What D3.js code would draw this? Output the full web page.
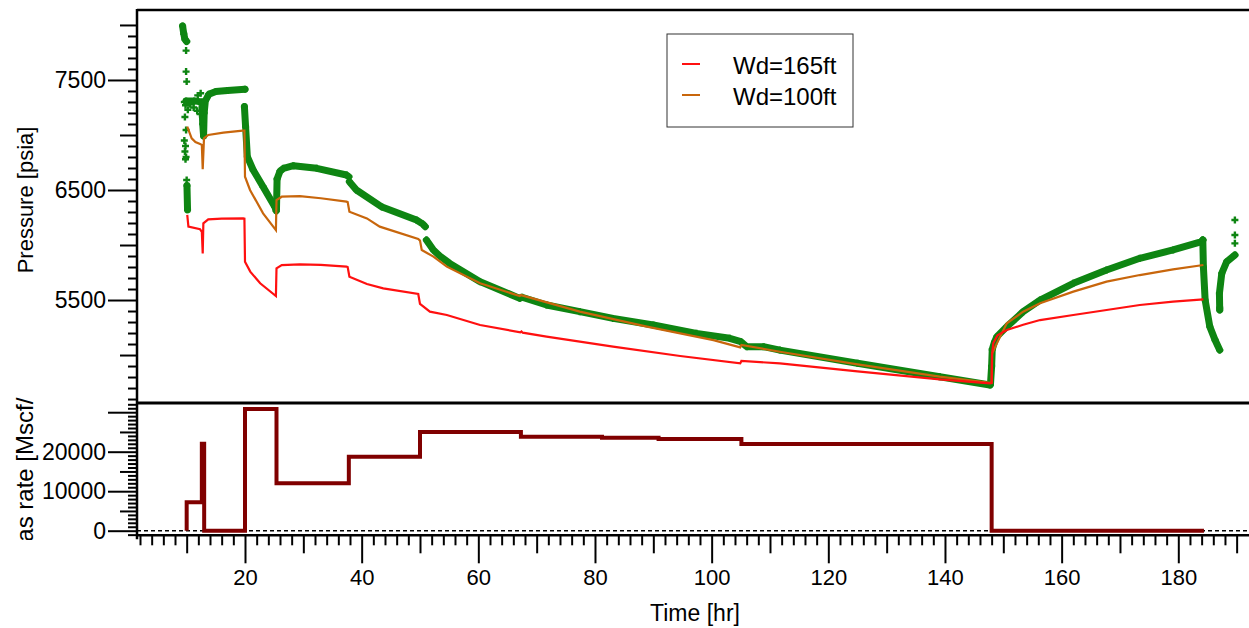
<!DOCTYPE html>
<html>
<head>
<meta charset="utf-8">
<script src="https://cdn.jsdelivr.net/npm/d3@7"></script>
<style>
  html, body { margin: 0; padding: 0; background: #fff; }
  svg { display: block; font-family: "Liberation Sans", Arial, sans-serif; }
</style>
</head>
<body>
<svg id="chart" width="1249" height="628"></svg>
<script>
// ---------------- DATA ----------------
const xTickLabels = [20, 40, 60, 80, 100, 120, 140, 160, 180];
const pressureTickLabels = [5500, 6500, 7500];
const rateTickLabels = [0, 10000, 20000];
const legendLabels = ["Wd=165ft", "Wd=100ft"];

// simulated pressure, Wd=165ft  [time hr, pressure psia]
const sim165 = [
  [10.1, 6273], [10.3, 6167], [12.3, 6143], [12.6, 6120], [12.75, 5924], [12.86, 6197],
  [13.7, 6233], [16, 6240], [19.7, 6242], [19.9, 6240], [20.0, 5848], [20.9, 5758],
  [22.6, 5652], [25.3, 5536], [25.4, 5788], [26.3, 5818], [29.4, 5824], [33, 5820],
  [37.4, 5803], [37.6, 5800], [37.9, 5712], [40.9, 5645], [43.7, 5606], [49.7, 5555],
  [50.0, 5464], [51.7, 5394], [54.6, 5364], [60.3, 5273], [67.2, 5206], [67.4, 5214],
  [67.6, 5203], [71.7, 5167], [83.1, 5076], [94.6, 4991], [104.9, 4924], [105.1, 4946],
  [111.7, 4924], [125, 4852], [139.1, 4779], [147.7, 4742], [148.0, 4745], [148.05, 5000],
  [148.3, 5110], [149, 5180], [150.6, 5227], [153.4, 5275], [156.3, 5318], [162, 5364],
  [167.7, 5409], [173.4, 5455], [179.1, 5485], [184.3, 5506]
];
// simulated pressure, Wd=100ft
const sim100 = [
  [10.1, 7076], [10.86, 6970], [11.5, 6935], [12.3, 6918], [12.6, 6910], [12.75, 6688],
  [12.97, 6970], [13.7, 7000], [16.3, 7021], [19.6, 7039], [19.9, 7040], [20.0, 6621],
  [20.86, 6500], [23.1, 6288], [25.3, 6136], [25.4, 6409], [26.3, 6439], [29.4, 6445],
  [33, 6425], [37.4, 6394], [37.6, 6390], [37.9, 6303], [40.9, 6242], [43.1, 6167],
  [49.7, 6055], [50.0, 6040], [50.3, 5955], [52.3, 5894], [54.6, 5803], [60.3, 5652],
  [67.1, 5536], [67.3, 5545], [77.4, 5394], [88.9, 5258], [100.3, 5136], [104.9, 5070],
  [105.1, 5091], [111.7, 5030], [125, 4915], [139.1, 4803], [147.7, 4748], [148.0, 4750],
  [148.1, 5015], [148.9, 5106], [150.6, 5288], [153.4, 5394], [156.3, 5470], [162, 5576],
  [167.7, 5667], [173.4, 5727], [179.1, 5779], [184.3, 5818]
];
// measured pressure (dense markers), read as connected stretches
const measTop = [[9.3, 7990], [9.5, 7920], [9.7, 7870], [10.0, 7850]];
const measLow = [[10.05, 6540], [10.15, 6320]];
const measA = [
  [9.9, 7310], [11.3, 7310], [12.6, 7300], [12.75, 7100], [12.9, 6990], [13.0, 7200],
  [13.2, 7310], [13.8, 7370], [15, 7395], [17, 7405], [20.0, 7415]
];
const measB = [[19.9, 7258], [20.1, 7076], [20.4, 6803], [21.4, 6682], [23.1, 6530], [25.1, 6348], [25.35, 6310]];
const measC = [[25.4, 6330], [25.5, 6600], [26, 6670], [26.6, 6697], [28.3, 6721], [32.3, 6697], [37.4, 6636], [37.8, 6620]];
const measD = [[37.9, 6576], [39.1, 6500], [43.5, 6345], [49.4, 6227], [50.5, 6190], [50.9, 6167]];
const measE = [
  [51.1, 6045], [52.3, 5955], [53.4, 5900], [55.1, 5833], [60.3, 5667], [67.1, 5515],
  [67.5, 5525], [71.7, 5455], [77.4, 5394], [83.1, 5333], [90, 5273], [97.4, 5197],
  [103.1, 5152], [105, 5121], [106, 5076], [108.9, 5076], [111.7, 5045], [125, 4925],
  [139.1, 4803], [147.7, 4727]
];
const measF = [
  [147.8, 4735], [148.0, 4900], [148.1, 5050], [148.5, 5120], [148.9, 5167], [150.6, 5258],
  [153.4, 5394], [156.3, 5500], [162, 5652], [167.7, 5773], [173.4, 5879], [179.1, 5955],
  [184.0, 6030], [184.2, 6045]
];
const measG = [[184.2, 6045], [184.3, 5803], [184.6, 5500], [185.4, 5258], [186.3, 5136], [187.1, 5045]];
const measH = [[187.1, 5409], [187.05, 5561], [187.45, 5742], [188.3, 5848], [189.7, 5909]];
const measIsolated = [
  [9.9, 7767], [9.9, 7576], [10.0, 7485], [9.6, 7300], [9.8, 7270], [10.2, 7230],
  [10.6, 7280], [11.2, 7250], [11.8, 7220], [12.3, 7190], [11.9, 7360], [12.4, 7380],
  [9.7, 7164], [9.9, 7045], [9.6, 6950], [9.8, 6900], [9.7, 6850], [9.9, 6800],
  [9.8, 6780], [10.0, 6591], [189.7, 6227], [189.7, 6091], [189.7, 6015], [187.1, 5430]
];
// gas rate (step after)
const rateT = [10.0, 10.0, 12.6, 13.0, 20.0, 25.4, 37.8, 50.0, 67.3, 81.2, 90.9, 105.1, 148.0, 184.4];
const rateQ = [0, 7200, 22000, 0, 30800, 12000, 18700, 25000, 23800, 23550, 23200, 21950, 0, 0];

// ---------------- LAYOUT ----------------
const L = 137, R = 1249, T = 10, SEP = 403, B = 535.3;
const svg = d3.select("#chart");

const x = d3.scaleLinear().domain([1.485, 192.12]).range([L, R]);
const yP = d3.scaleLinear().domain([4564, 8136]).range([SEP, T]);
const yR = d3.scaleLinear().domain([-1165, 32330]).range([B, SEP]);

const defs = svg.append("defs");
defs.append("clipPath").attr("id", "clipTop")
  .append("rect").attr("x", L).attr("y", T).attr("width", R - L).attr("height", SEP - T);
defs.append("clipPath").attr("id", "clipBot")
  .append("rect").attr("x", L).attr("y", SEP).attr("width", R - L).attr("height", B - SEP);
defs.append("clipPath").attr("id", "clipRateLabel")
  .append("rect").attr("x", 0).attr("y", 397).attr("width", 60).attr("height", 143);

// ---------------- AXES ----------------
function drawTicks(g, axis) {
  g.call(axis);
  g.select(".domain").remove();
  g.selectAll(".tick line").attr("stroke", "#000").attr("stroke-width", 2);
}
// x axis
const xAll = d3.range(2, 192, 2);
const xMinor = xAll.filter(v => v % 10 !== 0);
const xMed = xAll.filter(v => v % 10 === 0 && v % 20 !== 0);
drawTicks(svg.append("g").attr("transform", `translate(0,${B})`),
  d3.axisBottom(x).tickValues(xMinor).tickSize(10).tickFormat(""));
drawTicks(svg.append("g").attr("transform", `translate(0,${B})`),
  d3.axisBottom(x).tickValues(xMed).tickSize(18).tickFormat(""));
const gxMaj = svg.append("g").attr("transform", `translate(0,${B})`);
drawTicks(gxMaj, d3.axisBottom(x).tickValues(xTickLabels).tickSize(28).tickPadding(6).tickFormat(d3.format("d")));
gxMaj.selectAll(".tick text").attr("font-size", 22).attr("fill", "#000")
  .attr("font-family", "Liberation Sans, Arial, sans-serif");

// pressure axis
const pAll = d3.range(4600, 8001, 100);
const pMinor = pAll.filter(v => v % 500 !== 0);
const pMed = pAll.filter(v => v % 500 === 0 && !pressureTickLabels.includes(v));
drawTicks(svg.append("g").attr("transform", `translate(${L},0)`),
  d3.axisLeft(yP).tickValues(pMinor).tickSize(9).tickFormat(""));
drawTicks(svg.append("g").attr("transform", `translate(${L},0)`),
  d3.axisLeft(yP).tickValues(pMed).tickSize(17).tickFormat(""));
const gpMaj = svg.append("g").attr("transform", `translate(${L},0)`);
drawTicks(gpMaj, d3.axisLeft(yP).tickValues(pressureTickLabels).tickSize(29).tickPadding(2).tickFormat(d3.format("d")));
gpMaj.selectAll(".tick text").attr("font-size", 23).attr("fill", "#000")
  .attr("font-family", "Liberation Sans, Arial, sans-serif");

// rate axis
const rAll = d3.range(-1000, 32001, 1000);
const rMinor = rAll.filter(v => v % 5000 !== 0);
const rMed = rAll.filter(v => v % 5000 === 0 && v % 10000 !== 0);
const rMajNoLabel = [30000];
drawTicks(svg.append("g").attr("transform", `translate(${L},0)`),
  d3.axisLeft(yR).tickValues(rMinor).tickSize(9).tickFormat(""));
drawTicks(svg.append("g").attr("transform", `translate(${L},0)`),
  d3.axisLeft(yR).tickValues(rMed).tickSize(17).tickFormat(""));
drawTicks(svg.append("g").attr("transform", `translate(${L},0)`),
  d3.axisLeft(yR).tickValues(rMajNoLabel).tickSize(29).tickFormat(""));
const grMaj = svg.append("g").attr("transform", `translate(${L},0)`);
drawTicks(grMaj, d3.axisLeft(yR).tickValues(rateTickLabels).tickSize(29).tickPadding(2).tickFormat(d3.format("d")));
grMaj.selectAll(".tick text").attr("font-size", 23).attr("fill", "#000")
  .attr("font-family", "Liberation Sans, Arial, sans-serif");

// frame lines
svg.append("line").attr("x1", L).attr("x2", R).attr("y1", T).attr("y2", T).attr("stroke", "#000").attr("stroke-width", 2.5);
svg.append("line").attr("x1", L).attr("x2", R).attr("y1", SEP).attr("y2", SEP).attr("stroke", "#000").attr("stroke-width", 3);
svg.append("line").attr("x1", L).attr("x2", R).attr("y1", B).attr("y2", B).attr("stroke", "#000").attr("stroke-width", 2.5);
svg.append("line").attr("x1", L).attr("x2", L).attr("y1", T - 1).attr("y2", B + 4).attr("stroke", "#000").attr("stroke-width", 2.5);

// zero dashed line
svg.append("line").attr("x1", L).attr("x2", R).attr("y1", yR(0)).attr("y2", yR(0))
  .attr("stroke", "#000").attr("stroke-width", 1.5).attr("stroke-dasharray", "4,3");

// ---------------- PRESSURE PANEL ----------------
const gTop = svg.append("g").attr("clip-path", "url(#clipTop)");
const line = d3.line().x(d => x(d[0])).y(d => yP(d[1]));
const green = "#0e8512";
const measSegments = [measTop, measLow, measA, measB, measC, measD, measE, measF, measG, measH];
measSegments.forEach(seg => {
  gTop.append("path").attr("d", line(seg)).attr("fill", "none")
    .attr("stroke", green).attr("stroke-width", 7).attr("stroke-linejoin", "round").attr("stroke-linecap", "round");
});
const plus = "M-3.5,0H3.5M0,-3.5V3.5";
const allMeas = measSegments.flat().concat(measIsolated);
gTop.selectAll("path.m").data(allMeas).join("path").attr("class", "m")
  .attr("transform", d => `translate(${x(d[0])},${yP(d[1])})`)
  .attr("d", plus).attr("stroke", green).attr("stroke-width", 2.4).attr("fill", "none");

gTop.append("path").attr("d", line(sim100)).attr("fill", "none")
  .attr("stroke", "#c8660c").attr("stroke-width", 2.2);
gTop.append("path").attr("d", line(sim165)).attr("fill", "none")
  .attr("stroke", "#ff1010").attr("stroke-width", 2.2);

// ---------------- RATE PANEL ----------------
const gBot = svg.append("g").attr("clip-path", "url(#clipBot)");
const rateData = rateT.map((t, i) => [t, rateQ[i]]);
const rateLine = d3.line().x(d => x(d[0])).y(d => yR(d[1])).curve(d3.curveStepAfter);
gBot.append("path").attr("d", rateLine(rateData)).attr("fill", "none")
  .attr("stroke", "#800000").attr("stroke-width", 4).attr("stroke-linejoin", "miter");

// ---------------- LABELS ----------------
svg.append("text").attr("x", 695).attr("y", 621).attr("text-anchor", "middle")
  .attr("font-size", 23).text("Time [hr]");
svg.append("text").attr("transform", "translate(33,200) rotate(-90)").attr("text-anchor", "middle")
  .attr("font-size", 22).text("Pressure [psia]");
svg.append("g").attr("clip-path", "url(#clipRateLabel)")
  .append("text").attr("transform", "translate(33,467) rotate(-90)").attr("text-anchor", "middle")
  .attr("font-size", 24).text("Gas rate [Mscf/D]");

// legend
const lg = svg.append("g");
lg.append("rect").attr("x", 667).attr("y", 34).attr("width", 186).attr("height", 93)
  .attr("fill", "#fff").attr("stroke", "#333").attr("stroke-width", 1);
const legendColors = ["#ff1010", "#c8660c"];
legendLabels.forEach((lab, i) => {
  const yy = 64 + i * 31;
  lg.append("line").attr("x1", 682).attr("x2", 700).attr("y1", yy).attr("y2", yy)
    .attr("stroke", legendColors[i]).attr("stroke-width", 2);
  lg.append("text").attr("x", 733).attr("y", yy + 10).attr("font-size", 24).text(lab);
});
</script>
</body>
</html>
